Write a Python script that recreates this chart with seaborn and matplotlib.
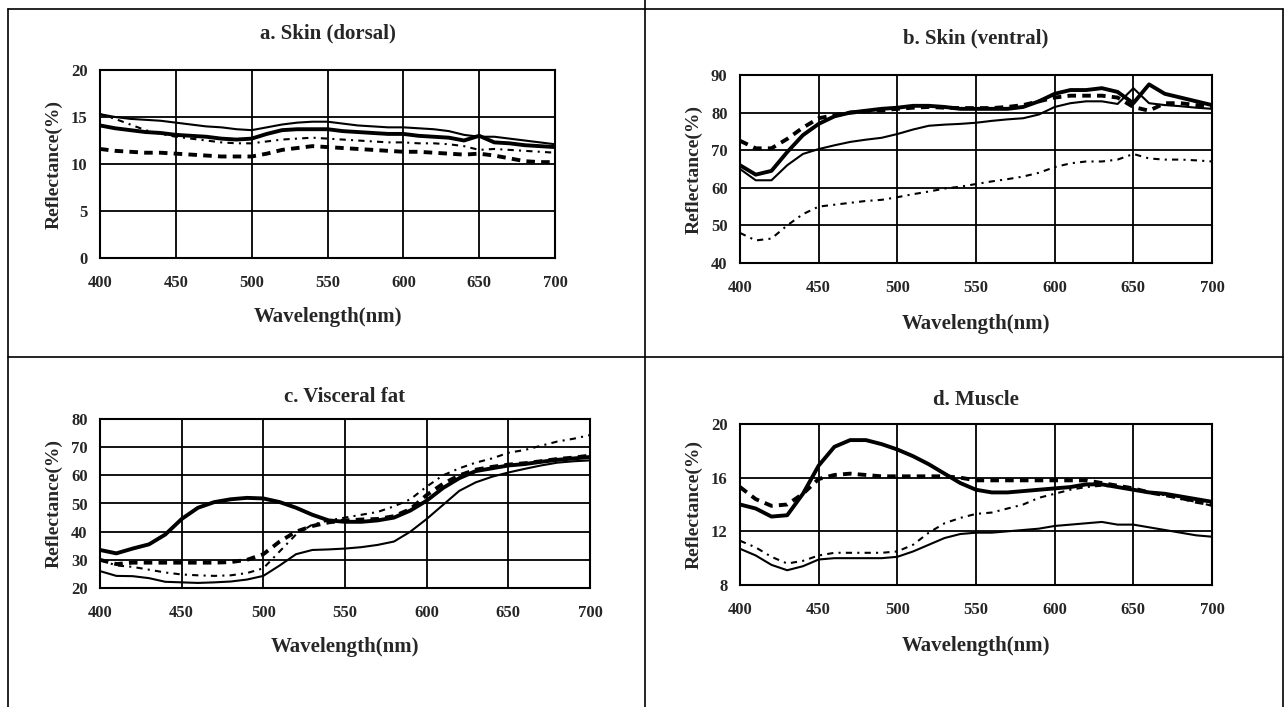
import numpy as np
import pandas as pd
import matplotlib
matplotlib.use("Agg")
import matplotlib.pyplot as plt
from matplotlib.lines import Line2D
import seaborn as sns

sns.set_style("white")
plt.rcParams['font.family'] = ['Liberation Serif', 'DejaVu Serif']
plt.rcParams['font.weight'] = 'bold'

wavelength = list(range(400, 701, 10))

# a. Skin (dorsal)
a_thick = [14.1, 13.8, 13.6, 13.4, 13.3, 13.1, 13.0, 12.9, 12.7, 12.6, 12.7, 13.2, 13.6, 13.7, 13.7, 13.7,
           13.5, 13.4, 13.3, 13.2, 13.2, 13.0, 12.9, 12.8, 12.5, 13.0, 12.3, 12.2, 12.0, 11.9, 11.8]
a_thin = [15.3, 15.0, 14.8, 14.7, 14.6, 14.4, 14.2, 14.0, 13.9, 13.7, 13.6, 13.9, 14.2, 14.4, 14.5, 14.5,
          14.3, 14.1, 14.0, 13.9, 13.9, 13.8, 13.7, 13.5, 13.1, 12.9, 12.9, 12.7, 12.5, 12.3, 12.1]
a_dash = [11.6, 11.4, 11.3, 11.2, 11.2, 11.1, 11.0, 10.9, 10.8, 10.8, 10.8, 11.1, 11.5, 11.7, 11.9, 11.8,
          11.7, 11.6, 11.5, 11.4, 11.3, 11.3, 11.2, 11.1, 11.0, 11.1, 10.9, 10.6, 10.3, 10.2, 10.2]
a_dot = [15.3, 14.8, 14.2, 13.6, 13.2, 12.9, 12.7, 12.5, 12.3, 12.2, 12.2, 12.4, 12.6, 12.7, 12.8, 12.7,
         12.6, 12.5, 12.4, 12.3, 12.3, 12.2, 12.2, 12.1, 11.9, 11.5, 11.6, 11.5, 11.4, 11.3, 11.2]

# b. Skin (ventral)
b_thick = [66, 63.5, 64.5, 69.5, 74, 77, 79, 80, 80.5, 81, 81.3, 81.8, 81.8, 81.5, 81, 81,
           81, 81, 81.5, 83, 85, 86, 86, 86.5, 85.5, 82.5, 87.5, 85, 84, 83, 82]
b_thin = [65, 62, 62, 66, 69, 70.3, 71.3, 72.2, 72.8, 73.3, 74.3, 75.5, 76.5, 76.8, 77, 77.3,
          77.8, 78.2, 78.5, 79.5, 81.5, 82.5, 83, 83, 82.3, 86.5, 82.5, 82, 81.7, 81.3, 81]
b_dash = [72.5, 70.5, 70.5, 73, 76, 78.5, 79.3, 80, 80.3, 80.6, 81, 81.3, 81.5, 81.3, 81.2, 81.2,
          81.2, 81.5, 82, 83, 84, 84.5, 84.5, 84.5, 84, 81.5, 80.5, 82.5, 82.5, 82, 81.5]
b_dot = [48, 46, 46.5, 50, 53, 55, 55.5, 56, 56.5, 56.8, 57.5, 58.3, 59, 59.8, 60.3, 61,
         61.7, 62.3, 63, 64, 65.5, 66.5, 67, 67, 67.5, 69, 67.8, 67.5, 67.5, 67.3, 67]

# c. Visceral fat
c_thick = [33.5, 32.3, 34, 35.5, 39, 44.5, 48.5, 50.5, 51.5, 52, 51.8, 50.5, 48.5, 46, 44, 43.5,
           43.5, 44, 45, 47.5, 51, 55.5, 59, 61.5, 62.5, 63.5, 64, 64.8, 65.5, 66, 66.5]
c_thin = [26, 24.3, 24.2, 23.5, 22.2, 22, 21.8, 22, 22.3, 23, 24.3, 28, 32, 33.5, 33.7, 34,
          34.5, 35.3, 36.5, 40, 44.5, 49.5, 54.5, 57.5, 59.5, 61, 62.3, 63.5, 64.5, 65, 65.3]
c_dash = [30, 28.5, 29, 29, 29, 29, 29, 29, 29.2, 30, 32, 36.5, 40, 42, 43.3, 44,
          44.3, 44.5, 45.5, 48, 53, 57, 60, 62, 63, 63.8, 64.3, 65, 65.8, 66.3, 67]
c_dot = [30, 28, 27.5, 26.5, 25.5, 24.8, 24.5, 24.3, 24.5, 25.3, 27, 33, 39, 42.5, 44, 45,
         46, 47, 49, 51.5, 56, 60, 62.5, 64.5, 66, 68, 69, 70.5, 72, 73, 74.3]

# d. Muscle
d_thick = [14, 13.7, 13.1, 13.2, 14.8, 16.9, 18.3, 18.8, 18.8, 18.5, 18.1, 17.6, 17, 16.3, 15.6, 15.1,
           14.9, 14.9, 15, 15.1, 15.2, 15.3, 15.5, 15.5, 15.3, 15.1, 14.9, 14.8, 14.6, 14.4, 14.2]
d_thin = [10.7, 10.2, 9.5, 9.1, 9.4, 9.9, 10, 10, 10, 10, 10.1, 10.5, 11, 11.5, 11.8, 11.9,
          11.9, 12, 12.1, 12.2, 12.4, 12.5, 12.6, 12.7, 12.5, 12.5, 12.3, 12.1, 11.9, 11.7, 11.6]
d_dash = [15.3, 14.4, 13.9, 14, 14.8, 15.9, 16.2, 16.3, 16.2, 16.1, 16.1, 16.1, 16.1, 16.1, 16, 15.8,
          15.8, 15.8, 15.8, 15.8, 15.8, 15.8, 15.8, 15.6, 15.4, 15.2, 14.9, 14.7, 14.5, 14.2, 14]
d_dot = [11.3, 10.8, 10.1, 9.6, 9.8, 10.2, 10.4, 10.4, 10.4, 10.4, 10.5, 11, 11.9, 12.6, 13, 13.3,
         13.4, 13.7, 14, 14.5, 14.8, 15.1, 15.3, 15.4, 15.3, 15.1, 14.9, 14.7, 14.4, 14.2, 13.9]

# title, series, y range, y ticks, axes box (px: left, right, top, bottom), title pad, xlabel pad
panels = [
    ("a. Skin (dorsal)", [a_thick, a_thin, a_dash, a_dot], (0, 20), [0, 5, 10, 15, 20],
     [100, 555, 70, 258], 23, 12),
    ("b. Skin (ventral)", [b_thick, b_thin, b_dash, b_dot], (40, 90), [40, 50, 60, 70, 80, 90],
     [740, 1212, 75, 263], 23, 13),
    ("c. Visceral fat", [c_thick, c_thin, c_dash, c_dot], (20, 80), [20, 30, 40, 50, 60, 70, 80],
     [100, 590, 419, 588], 12, 12),
    ("d. Muscle", [d_thick, d_thin, d_dash, d_dot], (8, 20), [8, 12, 16, 20],
     [740, 1212, 424, 585], 14, 13),
]

styles = [
    dict(lw=2.8, linestyle='-'),
    dict(lw=1.5, linestyle='-'),
    dict(lw=2.8, linestyle=(0, (2.2, 1.6))),
    dict(lw=1.5, linestyle=(0, (3, 2.5, 1, 2.5))),
]

W, H = 1287, 707
fig = plt.figure(figsize=(W / 100, H / 100), dpi=100)

for title, series, ylim, yticks, (x0, x1, y0, y1), tpad, xpad in panels:
    ax = fig.add_axes([x0 / W, (H - y1) / H, (x1 - x0) / W, (y1 - y0) / H])
    for vals, st in zip(series, styles):
        sns.lineplot(x=wavelength, y=vals, ax=ax, color='black', **st)
    ax.set_xlim(400, 700)
    ax.set_ylim(*ylim)
    ax.set_xticks(range(400, 701, 50))
    ax.set_yticks(yticks)
    ax.grid(True, color='black', lw=1.3)
    for sp in ax.spines.values():
        sp.set_color('black')
        sp.set_linewidth(1.5)
    ax.tick_params(axis='both', length=0, labelsize=12, pad=9)
    ax.tick_params(axis='x', pad=12)
    for lab in ax.get_xticklabels() + ax.get_yticklabels():
        lab.set_fontweight('bold')
    ax.set_title(title, fontsize=15, fontweight='bold', pad=tpad)
    ax.set_xlabel("Wavelength(nm)", fontsize=15, fontweight='bold', labelpad=xpad)
    ax.set_ylabel("Reflectance(%)", fontsize=14, fontweight='bold', labelpad=6)

# table-like frame around the four panels
frame = [((8, 1283), (9, 9)), ((8, 8), (9, 707)), ((1283, 1283), (9, 707)),
         ((645, 645), (0, 707)), ((8, 1283), (357, 357))]
for xs, ys in frame:
    fig.add_artist(Line2D([x / W for x in xs], [1 - y / H for y in ys],
                          transform=fig.transFigure, color='black', lw=1.2))

fig.savefig("out.png", dpi=100, facecolor='white')
